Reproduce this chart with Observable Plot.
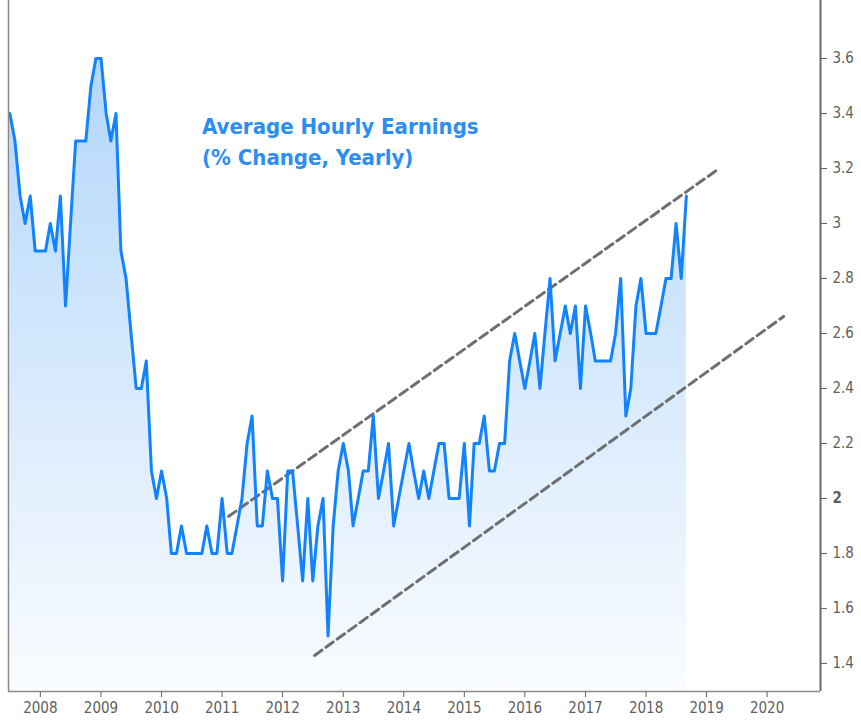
<!DOCTYPE html>
<html><head><meta charset="utf-8">
<script src="https://cdn.jsdelivr.net/npm/d3@7"></script>
<script src="https://cdn.jsdelivr.net/npm/@observablehq/plot@0.6"></script>
<style>
body{margin:0;background:#fff;}
#wrap{position:relative;width:861px;height:722px;}
#wrap svg{display:block;}
#title{position:absolute;left:202px;top:111px;z-index:2;font-family:"DejaVu Sans Condensed","DejaVu Sans",sans-serif;font-weight:bold;font-size:22px;line-height:31px;color:#2b8ef5;white-space:nowrap;}
</style></head><body>
<div id="wrap"><div id="title">Average Hourly Earnings<br>(% Change, Yearly)</div></div>
<script>
// Monthly series, first month = startMonth
const startMonth = "2007-07-01";
const earnings = [
  3.4,3.3,3.1,3.0,3.1,2.9,2.9,2.9,3.0,2.9,
  3.1,2.7,3.0,3.3,3.3,3.3,3.5,3.6,3.6,3.4,
  3.3,3.4,2.9,2.8,2.6,2.4,2.4,2.5,2.1,2.0,
  2.1,2.0,1.8,1.8,1.9,1.8,1.8,1.8,1.8,1.9,
  1.8,1.8,2.0,1.8,1.8,1.9,2.0,2.2,2.3,1.9,
  1.9,2.1,2.0,2.0,1.7,2.1,2.1,1.9,1.7,2.0,
  1.7,1.9,2.0,1.5,1.9,2.1,2.2,2.1,1.9,2.0,
  2.1,2.1,2.3,2.0,2.1,2.2,1.9,2.0,2.1,2.2,
  2.1,2.0,2.1,2.0,2.1,2.2,2.2,2.0,2.0,2.0,
  2.2,1.9,2.2,2.2,2.3,2.1,2.1,2.2,2.2,2.5,
  2.6,2.5,2.4,2.5,2.6,2.4,2.6,2.8,2.5,2.6,
  2.7,2.6,2.7,2.4,2.7,2.6,2.5,2.5,2.5,2.5,
  2.6,2.8,2.3,2.4,2.7,2.8,2.6,2.6,2.6,2.7,
  2.8,2.8,3.0,2.8,3.1
];
// Trend channel (dashed)
const upperDates = ["2011-02-10","2019-03-01"];
const upperValues = [1.935,3.193];
const lowerDates = ["2012-07-12","2020-04-10"];
const lowerValues = [1.429,2.662];
// Axes
const yearTicks = [2008,2009,2010,2011,2012,2013,2014,2015,2016,2017,2018,2019,2020];
const yTicks = [1.4,1.6,1.8,2,2.2,2.4,2.6,2.8,3,3.2,3.4,3.6];
const xDomain = ["2007-06-23","2020-11-18"];
const yDomain = [1.298,3.811];

const start = new Date(startMonth);
const data = earnings.map((v,i)=>({date:d3.utcMonth.offset(start,i), value:v}));
const upper = upperDates.map((d,i)=>({date:new Date(d), value:upperValues[i]}));
const lower = lowerDates.map((d,i)=>({date:new Date(d), value:lowerValues[i]}));
const xd = xDomain.map(d=>new Date(d));

const chart = Plot.plot({
  width:861, height:722,
  marginLeft:8, marginRight:41, marginTop:0, marginBottom:31,
  style:{background:"#fff", fontFamily:"'DejaVu Sans Condensed','DejaVu Sans',sans-serif", fontSize:"15px", color:"#5e5e5e"},
  x:{type:"utc", domain:xd, ticks:yearTicks.map(y=>new Date(Date.UTC(y,0,1))), tickFormat:"%Y", tickSize:6, tickPadding:5, label:null},
  y:{domain:yDomain, axis:"right", ticks:yTicks, tickSize:6, tickPadding:6, tickFormat:d=>String(d), label:null},
  marks:[
    Plot.areaY(data,{x:"date", y:"value", fill:"url(#ahe-fill)", clip:true}),
    Plot.line(upper,{x:"date", y:"value", stroke:"#6f6f6f", strokeWidth:3, strokeDasharray:"9,5"}),
    Plot.line(lower,{x:"date", y:"value", stroke:"#6f6f6f", strokeWidth:3, strokeDasharray:"9,5"}),
    Plot.line(data,{x:"date", y:"value", stroke:"#1283ff", strokeWidth:3}),
    Plot.ruleX([xd[0]],{stroke:"#8a8a8a", strokeWidth:1.5}),
    Plot.ruleX([xd[1]],{stroke:"#6a6a6a", strokeWidth:2}),
    Plot.ruleY([yDomain[0]],{stroke:"#8a8a8a", strokeWidth:1.5})
  ]
});
const ns = "http://www.w3.org/2000/svg";
const defs = document.createElementNS(ns,"defs");
defs.innerHTML = '<linearGradient id="ahe-fill" gradientUnits="userSpaceOnUse" x1="0" y1="0" x2="0" y2="691"><stop offset="0" stop-color="#acd3fa"/><stop offset="1" stop-color="#fafcff"/></linearGradient>';
chart.insertBefore(defs, chart.firstChild);
chart.querySelectorAll("text").forEach(t=>{ if(t.textContent==="2") t.setAttribute("font-weight","bold"); });
document.getElementById("wrap").insertBefore(chart, document.getElementById("title"));
</script>
</body></html>
